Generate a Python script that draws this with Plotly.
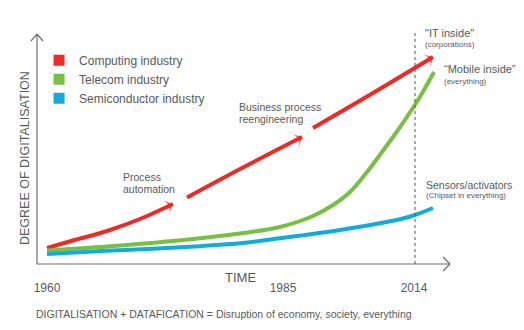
import plotly.graph_objects as go

# ---- data (arbitrary "time" and "digitalisation degree" units) ----
tick_pos = [10, 246, 377]
tick_labels = ["1960", "1985", "2014"]
marker_2014 = 378

red_seg1_x = [10, 36, 70, 103, 136]
red_seg1_y = [16, 23.5, 33, 45, 60]
red_seg2_x = [150, 205, 265]
red_seg2_y = [66.5, 96, 127]
red_seg3_x = [276, 336, 396]
red_seg3_y = [136, 171, 207]

green_x = [10, 70, 136, 203, 243, 276, 296, 313, 330, 345, 361, 381, 397]
green_y = [13.5, 17.5, 23, 30.5, 37, 48, 59, 72, 92, 112, 134, 164, 192]

blue_x = [10, 70, 136, 203, 243, 303, 363, 378, 396]
blue_y = [10, 13.3, 16.3, 20.7, 25.7, 34, 44.7, 49, 56]

series_names = ["Computing industry", "Telecom industry", "Semiconductor industry"]
RED, GREEN, BLUE = "#ec2a26", "#79bf43", "#12acdc"
TXT = "#58595b"
AX = "#6d6e70"
XMAX, YMAX = 413, 230

fig = go.Figure()

def seg(x, y, color, arrow=True):
    n = len(x)
    fig.add_trace(go.Scatter(
        x=x, y=y, mode="lines+markers" if arrow else "lines",
        line=dict(color=color, width=4, shape="spline", smoothing=1),
        marker=dict(symbol="arrow-wide", angleref="previous",
                    size=[0] * (n - 1) + [11], color=color, line=dict(width=0)),
        showlegend=False, hoverinfo="skip", cliponaxis=False))

seg(red_seg1_x, red_seg1_y, RED)
seg(red_seg2_x, red_seg2_y, RED)
seg(red_seg3_x, red_seg3_y, RED)
seg(green_x, green_y, GREEN, arrow=False)
seg(blue_x, blue_y, BLUE, arrow=False)

for name, col in zip(series_names, [RED, GREEN, BLUE]):
    fig.add_trace(go.Scatter(x=[None], y=[None], mode="markers", name=name,
                             marker=dict(symbol="square", size=11, color=col)))

def px(v):
    return v / XMAX

def py(v):
    return v / YMAX

axline = dict(color=AX, width=1.2)
shapes = [
    dict(type="line", xref="paper", yref="paper", x0=0, y0=0, x1=1, y1=0, line=axline),
    dict(type="line", xref="paper", yref="paper", x0=0, y0=0, x1=0, y1=1, line=axline),
    dict(type="line", xref="paper", yref="paper", x0=px(406), y0=py(7), x1=1, y1=0, line=axline),
    dict(type="line", xref="paper", yref="paper", x0=px(406), y0=py(-7), x1=1, y1=0, line=axline),
    dict(type="line", xref="paper", yref="paper", x0=px(-6), y0=py(223), x1=0, y1=1, line=axline),
    dict(type="line", xref="paper", yref="paper", x0=px(6), y0=py(223), x1=0, y1=1, line=axline),
    dict(type="line", xref="x", yref="paper", x0=marker_2014, y0=0, x1=marker_2014, y1=py(231),
         line=dict(color="#555555", width=1, dash="3px,3px")),
]

def ann(text, x, y, size, xanchor="left", **kw):
    return dict(text=text, x=px(x), y=py(y), xref="paper", yref="paper", showarrow=False,
                xanchor=xanchor, yanchor="middle",
                font=dict(size=size, color=TXT, family="Liberation Sans"), **kw)

annotations = [
    ann("Process", 84, 87, 10.5),
    ann("automation", 84, 75.5, 10.5),
    ann("Business process", 200, 157, 10.5),
    ann("reengineering", 200, 145, 10.5),
    ann('"IT inside"', 386, 230.5, 11),
    ann("(corporations)", 386, 219.5, 8),
    ann("“Mobile inside”", 405, 195, 11),
    ann("(everything)", 405, 182.5, 8),
    ann("Sensors/activators", 387, 79, 10.5),
    ann("(Chipset in everything)", 387, 68.5, 8),
    ann("TIME", 203, -13, 13, xanchor="center"),
    ann("DIGITALISATION + DATAFICATION = Disruption of economy, society, everything", -3, -50, 10.5),
    ann("DEGREE OF DIGITALISATION", -12, 106, 12.5, xanchor="center", textangle=-90),
]

fig.update_layout(
    width=524, height=330, autosize=False,
    margin=dict(l=37, r=74, t=34, b=66),
    paper_bgcolor="white", plot_bgcolor="white",
    font=dict(family="Liberation Sans", color=TXT),
    xaxis=dict(range=[0, XMAX], showgrid=False, zeroline=False, showline=False,
               tickvals=tick_pos, ticktext=tick_labels, ticks="outside", ticklen=13,
               tickcolor="rgba(0,0,0,0)", tickfont=dict(size=12, color=TXT)),
    yaxis=dict(range=[0, YMAX], showgrid=False, zeroline=False, showline=False,
               showticklabels=False),
    legend=dict(x=0.005, y=0.949, xanchor="left", yanchor="top", bgcolor="rgba(0,0,0,0)",
                font=dict(size=12, color=TXT), itemwidth=30),
    shapes=shapes, annotations=annotations,
)

fig.write_html("out.html")
